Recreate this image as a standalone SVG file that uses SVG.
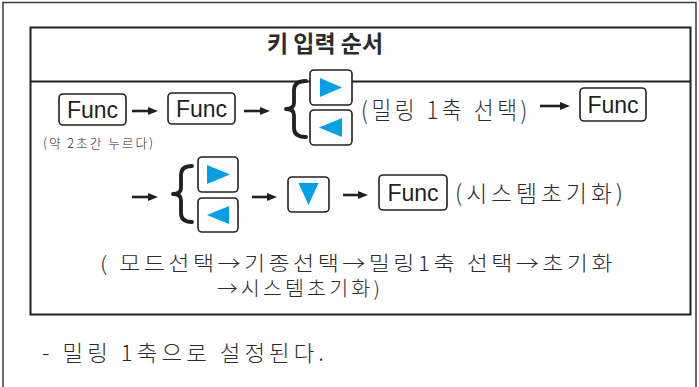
<svg xmlns="http://www.w3.org/2000/svg" width="699" height="387" viewBox="0 0 699 387">
<defs>
<style>
.frame{fill:none;stroke:#3a3a3a;stroke-width:1.5}
.box{fill:none;stroke:#231f20;stroke-width:2}
.key{fill:#fff;stroke:#231f20;stroke-width:1.6}
.tri{fill:#00a0e9}
.brace{fill:none;stroke:#231f20;stroke-width:3.8;stroke-linecap:round;stroke-linejoin:round}
.arrow{fill:none;stroke:#231f20;stroke-width:2.6}
.func{font-family:"Liberation Sans",Arial,sans-serif;font-size:23px;fill:#231f20;text-anchor:middle}
.kr{font-family:"Noto Sans CJK KR","Noto Sans",sans-serif;fill:#2b2b2b;font-weight:300}
.sp{letter-spacing:4px}
</style>
<marker id="ah" markerUnits="userSpaceOnUse" markerWidth="10" markerHeight="10" refX="1" refY="5" orient="auto">
<path d="M0,1 L10,5 L0,9 Z" fill="#231f20"/>
</marker>
</defs>
<rect x="0" y="0" width="699" height="387" fill="#fff"/>
<g id="outer-frame">
<path class="frame" d="M3,395 L3,2.5 L696,2.5 L696,395"/>
</g>
<g id="sequence-box">
<rect class="box" x="30.5" y="27.5" width="660" height="287"/>
<line class="box" x1="30.5" y1="81.5" x2="690.5" y2="81.5"/>
<text class="kr" x="267" y="52" font-size="23" style="font-weight:bold" fill="#1a1a1a" textLength="116" lengthAdjust="spacingAndGlyphs">키 입력 순서</text>
</g>
<g id="func1">
<rect class="key" x="59" y="94" width="67" height="31" rx="4"/>
<text class="func" x="92.5" y="118">Func</text>
<text class="kr" x="43" y="148" font-size="13" fill="#555" style="letter-spacing:2px" textLength="112" lengthAdjust="spacingAndGlyphs">(약 2초간 누르다)</text>
</g>
<g id="func2">
<rect class="key" x="168" y="93" width="67" height="31" rx="4"/>
<text class="func" x="201.5" y="117">Func</text>
</g>
<g id="select1">
<path class="brace" d="M306,81 Q294,81 294,90 L294,103 Q294,109 286,109 Q294,109 294,115 L294,128 Q294,137 306,137"/>
<rect class="key" x="310" y="70" width="42" height="35" rx="4"/>
<polygon class="tri" points="320,78 342,87.5 320,97"/>
<rect class="key" x="310" y="110" width="42" height="35" rx="4"/>
<polygon class="tri" points="342,118 319,127.5 342,137"/>
<text class="kr sp" x="361" y="119" font-size="24" textLength="170" lengthAdjust="spacingAndGlyphs">(밀링 1축 선택)</text>
</g>
<g id="func3">
<rect class="key" x="580" y="88" width="66" height="33" rx="4"/>
<text class="func" x="613" y="113">Func</text>
</g>
<g id="select2">
<path class="brace" d="M192,166 Q181,166 181,175 L181,188 Q181,194 173,194 Q181,194 181,200 L181,213 Q181,222 192,222"/>
<rect class="key" x="198" y="157" width="40" height="35" rx="4"/>
<polygon class="tri" points="207,165 230,174.5 207,184"/>
<rect class="key" x="198" y="198" width="40" height="34" rx="4"/>
<polygon class="tri" points="229,206 207,215 229,224"/>
</g>
<g id="down-key">
<rect class="key" x="288" y="177" width="41" height="35" rx="4"/>
<polygon class="tri" points="298.5,183 318.5,183 308.5,205"/>
</g>
<g id="func4">
<rect class="key" x="379" y="175" width="68" height="35" rx="4"/>
<text class="func" x="413" y="201">Func</text>
<text class="kr sp" x="455" y="202" font-size="23" textLength="172" lengthAdjust="spacingAndGlyphs">(시스템초기화)</text>
</g>
<g id="note">
<text class="kr" font-size="20" style="letter-spacing:3px"><tspan x="100" y="271" textLength="516" lengthAdjust="spacingAndGlyphs">( 모드선택→기종선택→밀링1축 선택→초기화</tspan><tspan x="217" y="296" textLength="166" lengthAdjust="spacingAndGlyphs">→시스템초기화)</tspan></text>
</g>
<g id="result">
<text class="kr sp" x="42" y="361" font-size="22" textLength="286" lengthAdjust="spacingAndGlyphs">- 밀링 1축으로 설정된다.</text>
</g>
<g id="connectors">
<line class="arrow" x1="132" y1="111" x2="149" y2="111" marker-end="url(#ah)"/>
<line class="arrow" x1="244" y1="111" x2="261" y2="111" marker-end="url(#ah)"/>
<line class="arrow" x1="540" y1="106" x2="561" y2="106" marker-end="url(#ah)"/>
<line class="arrow" x1="132" y1="197" x2="149" y2="197" marker-end="url(#ah)"/>
<line class="arrow" x1="252" y1="197" x2="268" y2="197" marker-end="url(#ah)"/>
<line class="arrow" x1="343" y1="195" x2="359" y2="195" marker-end="url(#ah)"/>
</g>
</svg>
